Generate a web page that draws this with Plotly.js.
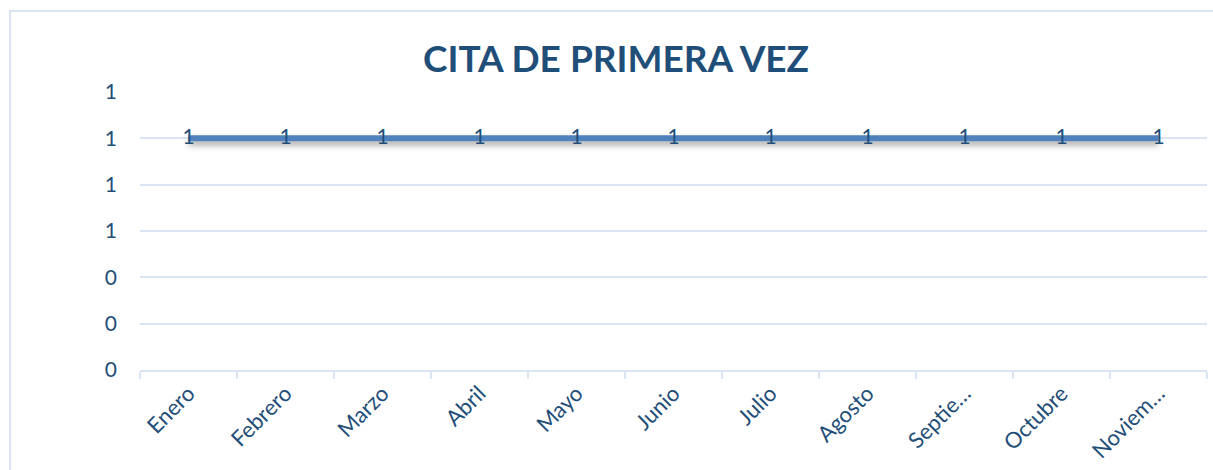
<!DOCTYPE html>
<html>
<head>
<meta charset="utf-8">
<script src="https://cdn.plot.ly/plotly-3.0.1.min.js"></script>
<style>
  html, body { margin: 0; padding: 0; background: #fff; }
  #wrap { position: relative; width: 1213px; height: 470px; overflow: hidden; }
  #chart { width: 1213px; height: 470px; }
  #frame { position: absolute; left: 9px; top: 10px; width: 1300px; height: 600px;
           border: 2px solid #DAE5F3; box-sizing: border-box; pointer-events: none; }
</style>
</head>
<body>
<div id="wrap">
  <div id="chart"></div>
  <div id="frame"></div>
</div>
<script>
const months = ["Enero", "Febrero", "Marzo", "Abril", "Mayo", "Junio", "Julio", "Agosto", "Septiembre", "Octubre", "Noviembre"];
const monthLabels = ["Enero", "Febrero", "Marzo", "Abril", "Mayo", "Junio", "Julio", "Agosto", "Septie…", "Octubre", "Noviem…"];
const citas = [1, 1, 1, 1, 1, 1, 1, 1, 1, 1, 1];
const dataLabels = ["1", "1", "1", "1", "1", "1", "1", "1", "1", "1", "1"];

const textColor = "#1F4E79";
const gridColor = "#DAE5F3";
const fontFam = "Lato, 'Open Sans', sans-serif";

const trace = {
  type: "scatter",
  mode: "lines+text",
  x: months,
  y: citas,
  text: dataLabels,
  textposition: "middle center",
  textfont: { family: fontFam, size: 21, color: textColor },
  line: { color: "#4F81BD", width: 6 },
  hoverinfo: "skip",
  cliponaxis: false
};

const layout = {
  width: 1213,
  height: 470,
  margin: { l: 140, r: 6, t: 92, b: 100 },
  paper_bgcolor: "rgba(0,0,0,0)",
  plot_bgcolor: "#fff",
  showlegend: false,
  title: {
    text: "<b>CITA DE PRIMERA VEZ</b>",
    font: { family: fontFam, size: 37, color: textColor },
    x: 616 / 1213, xanchor: "center",
    y: 1 - 59 / 470, yanchor: "middle", yref: "container"
  },
  xaxis: {
    type: "category",
    tickmode: "array",
    tickvals: months,
    ticktext: monthLabels,
    tickangle: -45,
    tickson: "boundaries",
    ticks: "outside",
    ticklen: 7,
    tickcolor: gridColor,
    tickwidth: 2,
    showline: true,
    linecolor: gridColor,
    linewidth: 2,
    showgrid: false,
    zeroline: false,
    range: [-0.5, 10.5],
    tickfont: { family: fontFam, size: 22, color: textColor }
  },
  yaxis: {
    range: [0, 1.2],
    tick0: 0,
    dtick: 0.2,
    tickformat: ".0f",
    showgrid: true,
    gridcolor: gridColor,
    gridwidth: 2,
    zeroline: false,
    showline: false,
    ticks: "",
    ticklabelstandoff: 22,
    tickfont: { family: fontFam, size: 21, color: textColor }
  }
};

Plotly.newPlot("chart", [trace], layout, { displayModeBar: false, staticPlot: true }).then(function () {
  document.querySelectorAll("#chart .scatterlayer .js-line").forEach(function (p) {
    p.style.filter = "drop-shadow(0px 4px 3px rgba(0,0,0,0.35))";
  });
});
</script>
</body>
</html>
